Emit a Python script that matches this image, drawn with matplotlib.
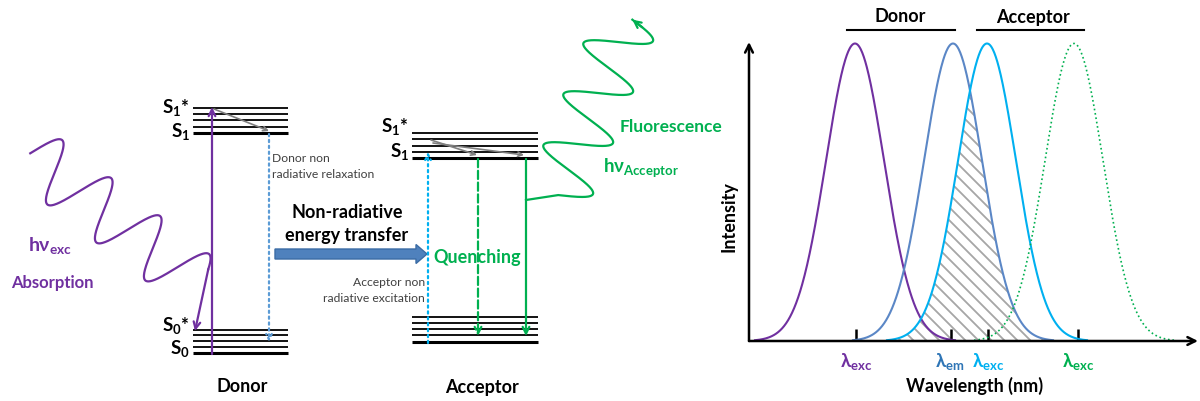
import numpy as np
import matplotlib.pyplot as plt
from matplotlib.patches import FancyArrow, Polygon

# ---- fonts ----
plt.rcParams['font.family'] = ['Lato', 'DejaVu Sans']
plt.rcParams['mathtext.fontset'] = 'custom'
plt.rcParams['mathtext.rm'] = 'Lato'
plt.rcParams['mathtext.bf'] = 'Lato:bold'
plt.rcParams['mathtext.it'] = 'Lato:italic'
plt.rcParams['mathtext.fallback'] = 'stixsans'

# ---- data ----
# Jablonski levels (rows in the diagram panel)
donor_s1_levels = [108, 114, 120, 127, 133]
donor_s0_levels = [330, 335, 341, 347, 353]
acceptor_s1_levels = [133, 139, 146, 152, 158]
acceptor_s0_levels = [317, 323, 329, 335, 342]

# spectra (wavelength, nm)
spec_peaks = [456, 554, 588, 675]
spec_sigma = [29, 29, 29, 29]
spec_colors = ['#7030A0', '#5B87C6', '#00B0F0', '#00B050']
spec_styles = ['-', '-', '-', ':']
tick_pos = [457, 552, 589, 679]
tick_labels = [r'$\mathbf{\lambda_{exc}}$', r'$\mathbf{\lambda_{em}}$',
               r'$\mathbf{\lambda_{exc}}$', r'$\mathbf{\lambda_{exc}}$']
tick_colors = ['#7030A0', '#2E75B6', '#00B0F0', '#00B050']

PURPLE = '#7030A0'
GREEN = '#00B050'
LBLUE = '#00B0F0'
GRAY = '#7F7F7F'


def gauss(x, c, s):
    return 0.995 * np.exp(-(x - c) ** 2 / (2 * s ** 2))


def wave(c_right, per, amp, v, t0, t1, n=600):
    per = np.array(per, float)
    v = np.array(v, float) / np.linalg.norm(v)
    c0 = np.array(c_right, float) - amp * v
    t = np.linspace(t0, t1, n)
    pts = c0[None, :] + (t / (2 * np.pi))[:, None] * per[None, :] \
        + (amp * np.cos(t))[:, None] * v[None, :]
    return pts


fig = plt.figure(figsize=(12, 4.01), dpi=100)
ax = fig.add_axes([0, 0, 1, 1])
ax.set_xlim(0, 1200)
ax.set_ylim(401, 0)
ax.axis('off')


def arrow(p0, p1, color, ls='-', lw=1.5, ms=12):
    ax.annotate('', xy=p1, xytext=p0,
                arrowprops=dict(arrowstyle='->', color=color, lw=lw, ls=ls,
                                shrinkA=0, shrinkB=0, mutation_scale=ms))


# ---- energy levels ----
for levels, x0, x1 in [(donor_s1_levels, 193, 288), (donor_s0_levels, 193, 288),
                       (acceptor_s1_levels, 412, 538), (acceptor_s0_levels, 412, 538)]:
    for i, y in enumerate(levels):
        ax.plot([x0, x1], [y, y], color='black', lw=2.2 if i == len(levels) - 1 else 1.3,
                solid_capstyle='butt')

# level labels
for x, y, s in [(190, 113, r'$\mathbf{S_1}$*'), (190, 137, r'$\mathbf{S_1}$'),
                (190, 331, r'$\mathbf{S_0}$*'), (190, 354, r'$\mathbf{S_0}$'),
                (409, 132, r'$\mathbf{S_1}$*'), (409, 157, r'$\mathbf{S_1}$')]:
    ax.text(x, y, s, ha='right', va='baseline', fontsize=13.5, fontweight='bold')

# ---- donor transitions ----
arrow((212, 354), (212, 107), PURPLE, lw=1.6)
arrow((214, 109), (269, 131), GRAY, lw=1.2, ms=8)
arrow((269, 134), (269, 342), '#5B9BD5', ls=':', lw=1.6, ms=10)

# absorption wave
pw = wave((62, 140), (49, 38), 30, (0.65, -0.76), -0.5 * np.pi, 6.3 * np.pi)
ax.plot(pw[:, 0], pw[:, 1], color=PURPLE, lw=1.6)
arrow(tuple(pw[-1]), (195, 331), PURPLE, lw=1.6)

ax.text(28, 245, r'$\mathbf{h\nu_{exc}}$', color=PURPLE, fontsize=14, va='center')
ax.text(52, 283, 'Absorption', color=PURPLE, fontsize=12, fontweight='bold',
        ha='center', va='center')
ax.text(242, 386, 'Donor', fontsize=13, fontweight='bold', ha='center', va='center')

ax.text(272, 158, 'Donor non', fontsize=8.7, color='#404040', va='center')
ax.text(272, 174, 'radiative relaxation', fontsize=8.7, color='#404040', va='center')

# ---- energy transfer ----
ax.text(347, 212, 'Non-radiative', fontsize=13, fontweight='bold', ha='center', va='center')
ax.text(347, 235, 'energy transfer', fontsize=13, fontweight='bold', ha='center', va='center')
ax.add_patch(FancyArrow(275, 254, 152, 0, width=10, head_width=19, head_length=11,
                        length_includes_head=True, facecolor='#4F81BD',
                        edgecolor='#3B6CA5', lw=1))
ax.text(425, 283, 'Acceptor non', fontsize=8.7, color='#404040', ha='right', va='center')
ax.text(425, 299, 'radiative excitation', fontsize=8.7, color='#404040', ha='right', va='center')

# ---- acceptor transitions ----
arrow((428, 343), (428, 152), LBLUE, ls=':', lw=1.6, ms=10)
arrow((431, 140), (477, 155), GRAY, lw=1.2, ms=8)
arrow((433, 143), (524, 155), GRAY, lw=1.2, ms=8)
arrow((478, 159), (478, 336), GREEN, ls='--', lw=1.6)
arrow((526, 159), (526, 336), GREEN, lw=1.6)

gw = wave((593, 194), (20, -51), 32, (0.931, 0.365), -0.5 * np.pi, 6.45 * np.pi)
gw = np.vstack([[526, 200], gw])
ax.plot(gw[:, 0], gw[:, 1], color=GREEN, lw=1.6)
arrow(tuple(gw[-12]), tuple(gw[-1]), GREEN, lw=1.6)

ax.text(477, 258, 'Quenching', color=GREEN, fontsize=13, fontweight='bold',
        ha='center', va='center')
ax.text(620, 127, 'Fluorescence', color=GREEN, fontsize=12.5, fontweight='bold',
        va='center')
ax.text(603, 168, r'$\mathbf{h\nu_{Acceptor}}$', color=GREEN, fontsize=13.5, va='center')
ax.text(482, 387, 'Acceptor', fontsize=13, fontweight='bold', ha='center', va='center')

# ---- spectrum panel ----
ax2 = fig.add_axes([749 / 1200, 60 / 401, 449 / 1200, 299 / 401])
ax2.patch.set_alpha(0)
ax2.set_xlim(350, 799)
ax2.set_ylim(0, 1)
for sp in ax2.spines.values():
    sp.set_visible(False)
ax2.set_yticks([])
ax2.set_xticks(tick_pos)
ax2.set_xticklabels([])
ax2.tick_params(axis='x', direction='in', length=9, width=1.8, color='black')

for c, s, col, ls in zip(spec_peaks, spec_sigma, spec_colors, spec_styles):
    x = np.linspace(max(c - 100, 350), c + 100, 400)
    ax2.plot(x, gauss(x, c, s), color=col, ls=ls, lw=1.5 if ls == '-' else 1.2, clip_on=False)

# overlap (donor emission x acceptor excitation)
xo = np.linspace(spec_peaks[2] - 100, spec_peaks[1] + 100, 400)
yo = np.minimum(gauss(xo, spec_peaks[1], spec_sigma[1]), gauss(xo, spec_peaks[2], spec_sigma[2]))
poly = Polygon(np.column_stack([np.r_[xo, xo[::-1]], np.r_[yo, np.zeros_like(yo)]]),
               closed=True, fill=False, lw=0)
ax2.add_patch(poly)
for x0 in np.arange(560, 1200, 13):
    ln, = ax.plot([x0, x0 + 400], [0, 400], color='#A6A6A6', lw=1.3)
    ln.set_clip_path(poly)

# axes arrows
ax2.annotate('', xy=(1, 0), xytext=(0, 0), xycoords='axes fraction',
             arrowprops=dict(arrowstyle='->', lw=1.8, color='black', shrinkA=0, shrinkB=0,
                             mutation_scale=14))
ax2.annotate('', xy=(0, 1), xytext=(0, 0), xycoords='axes fraction',
             arrowprops=dict(arrowstyle='->', lw=1.8, color='black', shrinkA=0, shrinkB=0,
                             mutation_scale=14))

for px, lab, col in zip([856, 950, 988, 1078], tick_labels, tick_colors):
    ax.text(px, 362, lab, color=col, fontsize=13.5, ha='center', va='center')

ax.text(975, 386, 'Wavelength (nm)', fontsize=13, fontweight='bold', ha='center', va='center')
ax.text(729, 217, 'Intensity', fontsize=13, fontweight='bold', rotation=90,
        ha='center', va='center')

# header bars
ax.text(900, 17, 'Donor', fontsize=13, fontweight='bold', ha='center', va='center')
ax.plot([847, 955], [30, 30], color='black', lw=1.5)
ax.text(1033, 17, 'Acceptor', fontsize=13, fontweight='bold', ha='center', va='center')
ax.plot([977, 1084], [30, 30], color='black', lw=1.5)

fig.savefig('out.png', dpi=100)
